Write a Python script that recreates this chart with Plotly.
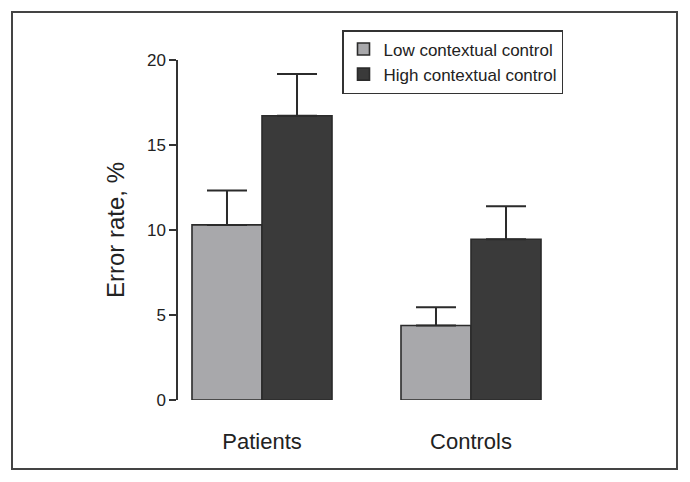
import plotly.graph_objects as go

groups = ["Patients", "Controls"]
series_names = ["Low contextual control", "High contextual control"]
low_values = [10.3, 4.38]
high_values = [16.72, 9.46]
low_errors = [2.03, 1.07]
high_errors = [2.45, 1.94]
y_ticks = [0, 5, 10, 15, 20]

colors = ["#a8a8ab", "#3a3a3a"]
edge = "#2b2b2b"

fig = go.Figure()
for name, vals, errs, col in [(series_names[0], low_values, low_errors, colors[0]),
                              (series_names[1], high_values, high_errors, colors[1])]:
    fig.add_trace(go.Bar(
        x=[0, 1], y=vals, name=name,
        marker=dict(color=col, line=dict(color=edge, width=1.6)),
        error_y=dict(type="data", array=errs, arrayminus=[0, 0], symmetric=False,
                     color=edge, thickness=2, width=20),
    ))

# page has 8px body margin; figure origin sits at page (8, 8)
OFF = 8
W, H = 690 - OFF, 482 - OFF
L = 178 - OFF
T = 60 - OFF
B = H - (400 - OFF)
R = 40
pw = W - L - R
ph = H - T - B
ppu = 209.0
x0 = -84 / ppu
x1 = x0 + pw / ppu


def px(p):
    return (p - OFF - L) / pw


def py(p):
    return (H - B - (p - OFF)) / ph


fig.update_layout(
    width=W, height=H,
    margin=dict(l=L, r=R, t=T, b=B),
    paper_bgcolor="white", plot_bgcolor="white",
    barmode="group", bargap=0.33, bargroupgap=0,
    font=dict(family="Liberation Sans, Arial, sans-serif", color="#222"),
    showlegend=True,
    legend=dict(
        x=px(342), y=py(30), xanchor="left", yanchor="top",
        bordercolor="#333", borderwidth=1.5, bgcolor="white",
        font=dict(size=17, color="#222"),
    ),
    xaxis=dict(
        range=[x0, x1], tickmode="array", tickvals=[0, 1], ticktext=groups,
        showline=False, showgrid=False, zeroline=False, ticks="",
        tickfont=dict(size=22, color="#222"), ticklabelstandoff=26,
    ),
    yaxis=dict(
        range=[0, 20], tickmode="array", tickvals=y_ticks,
        showline=True, linecolor="#333", linewidth=1.5,
        ticks="outside", ticklen=7, tickcolor="#333", tickwidth=1.5,
        showgrid=False, zeroline=False,
        tickfont=dict(size=17, color="#222"),
        title=dict(text="Error rate, %", font=dict(size=24, color="#222"), standoff=16),
    ),
)

fig.add_shape(type="rect", xref="paper", yref="paper",
              x0=px(12), x1=px(677),
              y0=py(469), y1=py(12),
              line=dict(color="#444", width=2), fillcolor="rgba(0,0,0,0)", layer="below")

fig.write_html("out.html")
